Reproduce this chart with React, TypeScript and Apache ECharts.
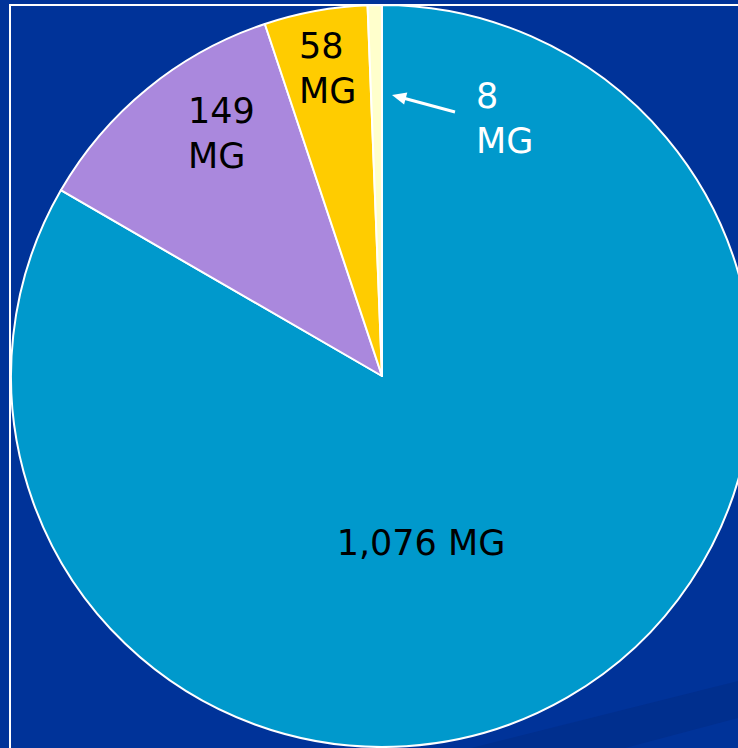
import React, { useEffect, useRef } from "react";
import * as echarts from "echarts";

const CATEGORIES = ["Large", "Medium", "Small", "Tiny"];
const VALUES = [1076, 149, 58, 8];
const LABELS = ["1,076 MG", "149\nMG", "58\nMG", "8\nMG"];
const COLORS = ["#0099CC", "#AA88DD", "#FFCC00", "#FFFFCC"];
const LABEL_COLORS = ["#000000", "#000000", "#000000", "#FFFFFF"];
const LABEL_POS: [number, number, string][] = [
  [421, 543, "center"],
  [188, 133, "left"],
  [299, 68, "left"],
  [476, 118, "left"],
];

export default function App() {
  const ref = useRef<HTMLDivElement>(null);
  useEffect(() => {
    if (!ref.current) return;
    const chart = echarts.init(ref.current, null, { renderer: "svg" });
    const tip = [392, 95];
    chart.setOption({
      animation: false,
      backgroundColor: "#003399",
      graphic: [
        {
          type: "polygon",
          z: -1,
          shape: { points: [[471, 748], [738, 681], [738, 718], [625, 748]] },
          style: { fill: "#002F8E" },
          silent: true,
        },
        {
          type: "rect",
          z: 0,
          shape: { x: 10, y: 5, width: 900, height: 900 },
          style: { fill: "none", stroke: "#FFFFFF", lineWidth: 2 },
          silent: true,
        },
        {
          type: "line",
          z: 100,
          shape: { x1: 455, y1: 112, x2: 404, y2: 98.3 },
          style: { stroke: "#FFFFFF", lineWidth: 3 },
          silent: true,
        },
        {
          type: "polygon",
          z: 100,
          shape: { points: [tip, [407.3, 92.6], [404.1, 104.6]] },
          style: { fill: "#FFFFFF" },
          silent: true,
        },
      ],
      series: [
        {
          type: "pie",
          center: [382, 376],
          radius: [0, 371],
          startAngle: 90,
          clockwise: true,
          z: 5,
          avoidLabelOverlap: false,
          itemStyle: { borderColor: "#FFFFFF", borderWidth: 2 },
          label: {
            show: true,
            position: "inside",
            fontFamily: "DejaVu Sans",
            fontSize: 35,
            lineHeight: 45,
            formatter: (p: any) => LABELS[p.dataIndex],
          },
          labelLine: { show: false },
          labelLayout: (p: any) => {
            const pos = LABEL_POS[p.dataIndex];
            return { x: pos[0], y: pos[1], align: pos[2], verticalAlign: "middle" };
          },
          emphasis: { disabled: true },
          data: VALUES.map((v, i) => ({
            name: CATEGORIES[i],
            value: v,
            itemStyle: { color: COLORS[i] },
            label: { color: LABEL_COLORS[i], align: LABEL_POS[i][2] },
          })),
        },
      ],
    });
    return () => chart.dispose();
  }, []);
  return (
    <div
      ref={ref}
      style={{ position: "fixed", left: 0, top: 0, width: 738, height: 748 }}
    />
  );
}
